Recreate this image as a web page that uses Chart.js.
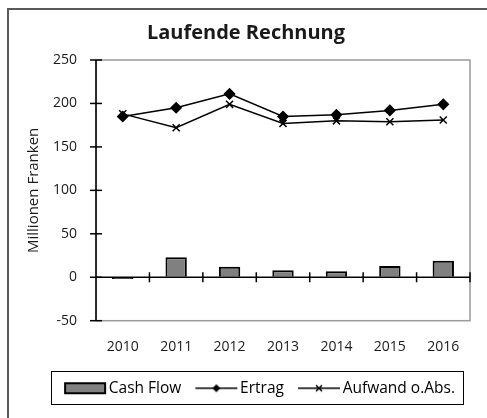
<!DOCTYPE html>
<html lang="de">
<head>
    <meta charset="UTF-8">
    <title>Laufende Rechnung</title>
    <script src="https://cdn.jsdelivr.net/npm/chart.js"></script>
    <style>
        body { margin: 0; background: #fff; }
        .frame {
            position: absolute; left: 7px; top: 8px; width: 500px; height: 440px;
            border: 2px solid #5a5a5a;
        }
        .wrap { position: absolute; left: 0; top: 0; width: 487px; height: 418px; }
    </style>
</head>
<body>
    <div class="frame"></div>
    <div class="wrap"><canvas id="chart"></canvas></div>

    <script>
        // data
        const years = ['2010', '2011', '2012', '2013', '2014', '2015', '2016'];
        const cashFlow = [-2, 23, 12, 8, 7, 13, 19];
        const ertrag = [185, 195, 211, 185, 187, 192, 199];
        const aufwand = [188, 172, 199, 177, 180, 179, 181];

        const FONT = "'Open Sans', 'Noto Sans', sans-serif";

        // legend icons: bar box, line with diamond, line with cross
        // canvas is 50 wide, centred on the 36px legend box, so it ends right before the text
        function makeIcon(kind) {
            const c = document.createElement('canvas');
            c.width = 50; c.height = 14;
            const g = c.getContext('2d');
            if (kind === 'bar') {
                g.fillStyle = '#808080';
                g.fillRect(7, 2, 40, 10);
                g.strokeStyle = '#000'; g.lineWidth = 2;
                g.strokeRect(7, 2, 40, 10);
            } else {
                g.strokeStyle = '#000'; g.lineWidth = 1.5;
                g.beginPath(); g.moveTo(6, 7); g.lineTo(48, 7); g.stroke();
                if (kind === 'diamond') {
                    g.fillStyle = '#000';
                    g.beginPath(); g.moveTo(27, 3); g.lineTo(31, 7); g.lineTo(27, 11); g.lineTo(23, 7); g.closePath(); g.fill();
                } else {
                    g.beginPath(); g.moveTo(24, 4); g.lineTo(30, 10); g.moveTo(30, 4); g.lineTo(24, 10); g.stroke();
                }
            }
            return c;
        }
        const icons = [makeIcon('bar'), makeIcon('diamond'), makeIcon('cross')];

        // frame of the plot area, the zero line with its ticks, y ticks and legend box
        const axisPlugin = {
            id: 'axisPlugin',
            afterDatasetsDraw(chart) {
                const { ctx, chartArea: a, scales: { x, y } } = chart;
                ctx.save();
                ctx.strokeStyle = '#9a9a9a';
                ctx.lineWidth = 1.5;
                ctx.strokeRect(a.left, a.top, a.right - a.left, a.bottom - a.top);

                ctx.strokeStyle = '#000';
                ctx.lineWidth = 1.5;
                // y axis line
                ctx.beginPath(); ctx.moveTo(a.left, a.top); ctx.lineTo(a.left, a.bottom); ctx.stroke();
                // y ticks crossing the axis
                y.ticks.forEach(t => {
                    const py = y.getPixelForValue(t.value);
                    ctx.beginPath(); ctx.moveTo(a.left - 6, py); ctx.lineTo(a.left + 6, py); ctx.stroke();
                });
                // x axis at zero
                const y0 = y.getPixelForValue(0);
                ctx.beginPath(); ctx.moveTo(a.left, y0); ctx.lineTo(a.right, y0); ctx.stroke();
                const half = (x.getPixelForValue(1) - x.getPixelForValue(0)) / 2;
                for (let i = 0; i < years.length; i++) {
                    const px = x.getPixelForValue(i) + half;
                    ctx.beginPath(); ctx.moveTo(px, y0 - 5); ctx.lineTo(px, y0 + 5); ctx.stroke();
                }
                ctx.restore();
            },
            afterDraw(chart) {
                const lg = chart.legend;
                if (!lg || !lg.legendHitBoxes.length) return;
                const ctx = chart.ctx;
                const opts = lg.options.labels;
                const boxes = lg.legendHitBoxes;
                const last = boxes[boxes.length - 1];
                ctx.save();
                ctx.font = opts.font.size + 'px ' + FONT;
                const textEnd = last.left + opts.pointStyleWidth + opts.font.size / 2 +
                    ctx.measureText(lg.legendItems[boxes.length - 1].text).width;
                const l = boxes[0].left - 14;
                const r = textEnd + 8;
                const cy = boxes[0].top + boxes[0].height / 2;
                ctx.strokeStyle = '#000';
                ctx.lineWidth = 1;
                ctx.strokeRect(Math.round(l) + 0.5, Math.round(cy - 17) + 0.5, Math.round(r - l), 33);
                ctx.restore();
            }
        };

        new Chart(document.getElementById('chart'), {
            data: {
                labels: years,
                datasets: [
                    {
                        type: 'bar',
                        label: 'Cash Flow',
                        data: cashFlow,
                        backgroundColor: '#808080',
                        borderColor: '#000',
                        borderWidth: 2,
                        barPercentage: 0.4,
                        categoryPercentage: 1,
                        order: 3
                    },
                    {
                        type: 'line',
                        label: 'Ertrag',
                        data: ertrag,
                        borderColor: '#000',
                        backgroundColor: '#000',
                        borderWidth: 1.5,
                        pointStyle: 'rectRot',
                        pointRadius: 5,
                        order: 1
                    },
                    {
                        type: 'line',
                        label: 'Aufwand o.Abs.',
                        data: aufwand,
                        borderColor: '#000',
                        backgroundColor: '#000',
                        borderWidth: 1.5,
                        pointStyle: 'crossRot',
                        pointRadius: 5,
                        pointBorderWidth: 1.5,
                        order: 2
                    }
                ]
            },
            options: {
                responsive: true,
                maintainAspectRatio: false,
                animation: false,
                layout: { padding: { top: 21, left: 22, right: 17, bottom: 12 } },
                plugins: {
                    title: {
                        display: true,
                        text: 'Laufende Rechnung',
                        color: '#1a1a1a',
                        font: { family: FONT, size: 20, weight: 'bold' },
                        padding: { top: 0, bottom: 15 }
                    },
                    legend: {
                        position: 'bottom',
                        align: 'end',
                        labels: {
                            usePointStyle: true,
                            pointStyleWidth: 36,
                            color: '#1a1a1a',
                            font: { family: FONT, size: 15.5 },
                            padding: 15,
                            generateLabels(chart) {
                                return chart.data.datasets.map((ds, i) => ({
                                    text: ds.label,
                                    pointStyle: icons[i],
                                    fillStyle: 'transparent',
                                    strokeStyle: 'transparent',
                                    lineWidth: 0,
                                    datasetIndex: i
                                }));
                            }
                        }
                    },
                    tooltip: { enabled: false }
                },
                scales: {
                    x: {
                        offset: true,
                        grid: { display: false },
                        border: { display: false },
                        ticks: { color: '#1a1a1a', font: { family: FONT, size: 14 }, padding: 10 }
                    },
                    y: {
                        min: -50,
                        max: 250,
                        ticks: { stepSize: 50, color: '#1a1a1a', font: { family: FONT, size: 14 }, padding: 8 },
                        // invisible tick marks only push the labels away from the axis
                        grid: { drawOnChartArea: false, drawTicks: true, tickLength: 11, color: 'transparent' },
                        border: { display: false },
                        title: {
                            display: true,
                            text: 'Millionen Franken',
                            color: '#1a1a1a',
                            font: { family: FONT, size: 15 },
                            padding: { top: 3, bottom: 2 }
                        }
                    }
                }
            },
            plugins: [axisPlugin]
        });
    </script>
</body>
</html>
